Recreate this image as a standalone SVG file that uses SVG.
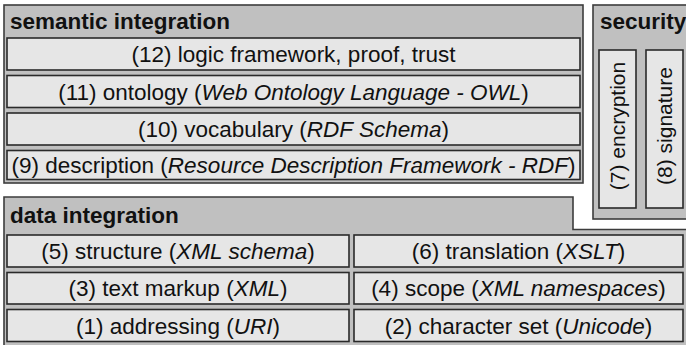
<svg xmlns="http://www.w3.org/2000/svg" width="686" height="345" viewBox="0 0 686 345">
<style>
.outer{fill:#c0c0c0;stroke:#3c3c3c;stroke-width:1.6}
.inner{fill:#e6e6e6;stroke:#2a2a2a;stroke-width:1.6}
.hd{font-family:"Liberation Sans",Arial,sans-serif;font-weight:bold;font-size:22.5px;fill:#111}
.t{font-family:"Liberation Sans",Arial,sans-serif;font-size:22.5px;fill:#111;text-anchor:middle}
.r{font-size:21px}
.i{font-style:italic}
</style>
<rect width="686" height="345" fill="#ffffff"/>
<g id="semantic">
<rect class="outer" x="4" y="5" width="579" height="178"/>
<text class="hd" x="10" y="28.5">semantic integration</text>
<g id="n12"><rect class="inner" x="7" y="38" width="573" height="32"/><text class="t" x="293.5" y="62">(12) logic framework, proof, trust</text></g>
<g id="n11"><rect class="inner" x="7" y="75.5" width="573" height="32"/><text class="t" x="293.5" y="99.5">(11) ontology (<tspan class="i">Web Ontology Language - OWL</tspan>)</text></g>
<g id="n10"><rect class="inner" x="7" y="113" width="573" height="32"/><text class="t" x="293.5" y="137">(10) vocabulary (<tspan class="i">RDF Schema</tspan>)</text></g>
<g id="n9"><rect class="inner" x="7" y="150.5" width="573" height="29"/><text class="t" x="293.5" y="173">(9) description (<tspan class="i">Resource Description Framework - RDF</tspan>)</text></g>
</g>
<g id="security">
<rect class="outer" x="593" y="5" width="100" height="214"/>
<text class="hd" x="600" y="28.5">security</text>
<g id="n7"><rect class="inner" x="599" y="50" width="37" height="158"/><text class="t r" transform="translate(625,126) rotate(-90)">(7) encryption</text></g>
<g id="n8"><rect class="inner" x="646" y="50" width="37" height="158"/><text class="t r" transform="translate(672,126) rotate(-90)">(8) signature</text></g>
</g>
<g id="data">
<path class="outer" d="M4,197 H573 V229.5 H692 V350 H4 Z"/>
<text class="hd" x="10" y="222.5">data integration</text>
<g id="n5"><rect class="inner" x="7" y="235" width="342" height="32"/><text class="t" x="178" y="259">(5) structure (<tspan class="i">XML schema</tspan>)</text></g>
<g id="n6"><rect class="inner" x="354" y="235" width="329" height="32"/><text class="t" x="518.5" y="259">(6) translation (<tspan class="i">XSLT</tspan>)</text></g>
<g id="n3"><rect class="inner" x="7" y="272.5" width="342" height="31.5"/><text class="t" x="178" y="296">(3) text markup (<tspan class="i">XML</tspan>)</text></g>
<g id="n4"><rect class="inner" x="354" y="272.5" width="329" height="31.5"/><text class="t" x="518.5" y="296">(4) scope (<tspan class="i">XML namespaces</tspan>)</text></g>
<g id="n1"><rect class="inner" x="7" y="309.5" width="342" height="32"/><text class="t" x="178" y="333.5">(1) addressing (<tspan class="i">URI</tspan>)</text></g>
<g id="n2"><rect class="inner" x="354" y="309.5" width="329" height="32"/><text class="t" x="518.5" y="333.5">(2) character set (<tspan class="i">Unicode</tspan>)</text></g>
</g>
</svg>
